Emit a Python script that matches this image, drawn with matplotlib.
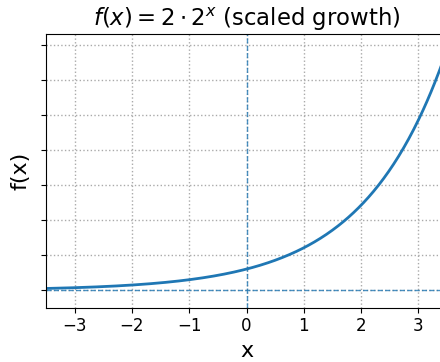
import numpy as np
import matplotlib
matplotlib.use('Agg')
import matplotlib.pyplot as plt

# x samples and the scaled exponential
x_vals = np.linspace(-3.5, 3.5, 400)
y_vals = 2 * 2 ** x_vals

x_ticks = [-3, -2, -1, 0, 1, 2, 3]
y_ticks = [0, 3.3, 6.6, 9.9, 13.2, 16.5, 19.8, 23.1]

fig = plt.figure(figsize=(4.4, 3.62), dpi=100)
# the original is cut off on the right, so the axes runs a bit past the figure edge
ax = fig.add_axes([46 / 440, 1 - 307.7 / 362, (447 - 46) / 440, (307.7 - 34.3) / 362])

ax.plot(x_vals, y_vals, color='C0', lw=2)
ax.axhline(0, color='C0', ls='--', lw=1, alpha=0.8)
ax.axvline(0, color='C0', ls='--', lw=1, alpha=0.8)

ax.set_xlim(-3.5, 3.5)
ax.set_ylim(-1.63, 24.06)
ax.set_xticks(x_ticks)
ax.set_yticks(y_ticks)
ax.set_yticklabels([])
ax.tick_params(axis='x', labelsize=12)
ax.grid(True, ls=':', color='#aaaaaa', lw=1)

ax.set_xlabel('x', fontsize=16)
ax.set_ylabel('f(x)', fontsize=16)
ax.set_title(r'$f(x) = 2 \cdot 2^x$ (scaled growth)', fontsize=16.4)

plt.savefig('out.png', dpi=100)
